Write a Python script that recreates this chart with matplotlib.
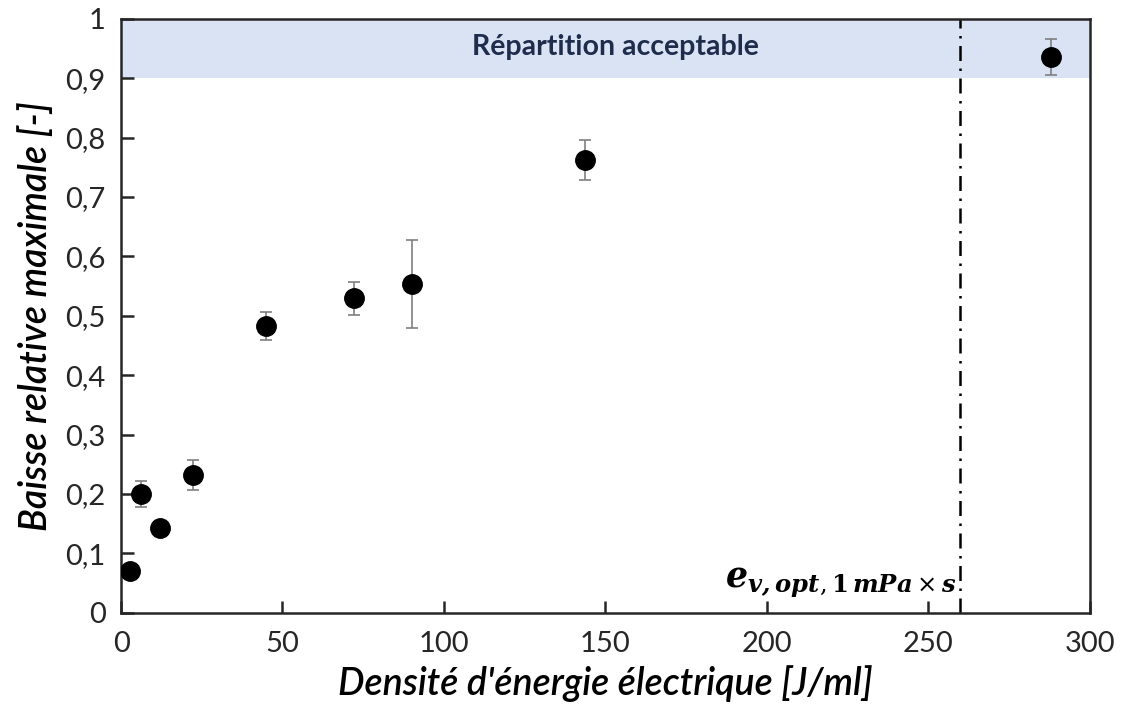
import matplotlib
matplotlib.use("Agg")
import matplotlib.pyplot as plt
from matplotlib.ticker import FuncFormatter

plt.rcParams["font.family"] = ["Lato", "DejaVu Sans"]
plt.rcParams["mathtext.fontset"] = "dejavuserif"

# données
energie = [2.8, 6.2, 12, 22.3, 45, 72, 90, 143.7, 288]
baisse = [0.071, 0.200, 0.143, 0.232, 0.483, 0.529, 0.554, 0.762, 0.936]
erreur = [0.0, 0.022, 0.0, 0.025, 0.024, 0.028, 0.074, 0.033, 0.030]
e_opt = 260
seuil = 0.9

fig = plt.figure(figsize=(11.21, 7.2), dpi=100)
ax = fig.add_axes([0.108, 0.149, 0.864, 0.825])

ax.axhspan(seuil, 1.0, color="#dae3f3", zorder=0, lw=0)
ax.text(153, 0.952, "Répartition acceptable", ha="center", va="center",
        fontsize=20.5, fontweight="bold", color="#1f2d4d")

ax.axvline(e_opt, color="black", lw=1.8, ls=(0, (6, 3, 1, 3)), zorder=1)
ax.text(e_opt - 1, 0.022,
        r"$\mathbfit{e}_{\mathbfit{v,opt},\mathbf{1}\,\mathbfit{mPa}\times\mathbfit{s}}$",
        ha="right", va="bottom", fontsize=25, color="black")

ax.errorbar(energie, baisse, yerr=erreur, fmt="o", color="black",
            ms=14, ecolor="#7f7f7f", elinewidth=1.2, capsize=4, capthick=1.2,
            zorder=3)

ax.set_xlim(0, 300)
ax.set_ylim(0, 1)
ax.set_xticks(range(0, 301, 50))
ax.set_yticks([i / 10 for i in range(11)])
ax.yaxis.set_major_formatter(FuncFormatter(
    lambda v, p: ("%g" % round(v, 1)).replace(".", ",")))
ax.tick_params(direction="in", length=9, width=1.8, labelsize=21, pad=13,
               colors="#262626")
ax.tick_params(axis="y", pad=11)
for s in ax.spines.values():
    s.set_linewidth(1.8)
    s.set_color("#262626")

ax.set_xlabel("Densité d'énergie électrique [J/ml]", fontsize=27,
              fontstyle="italic", fontweight="semibold", labelpad=6)
ax.set_ylabel("Baisse relative maximale [-]", fontsize=27,
              fontstyle="italic", fontweight="semibold", labelpad=8)

fig.savefig("out.png", dpi=100)
